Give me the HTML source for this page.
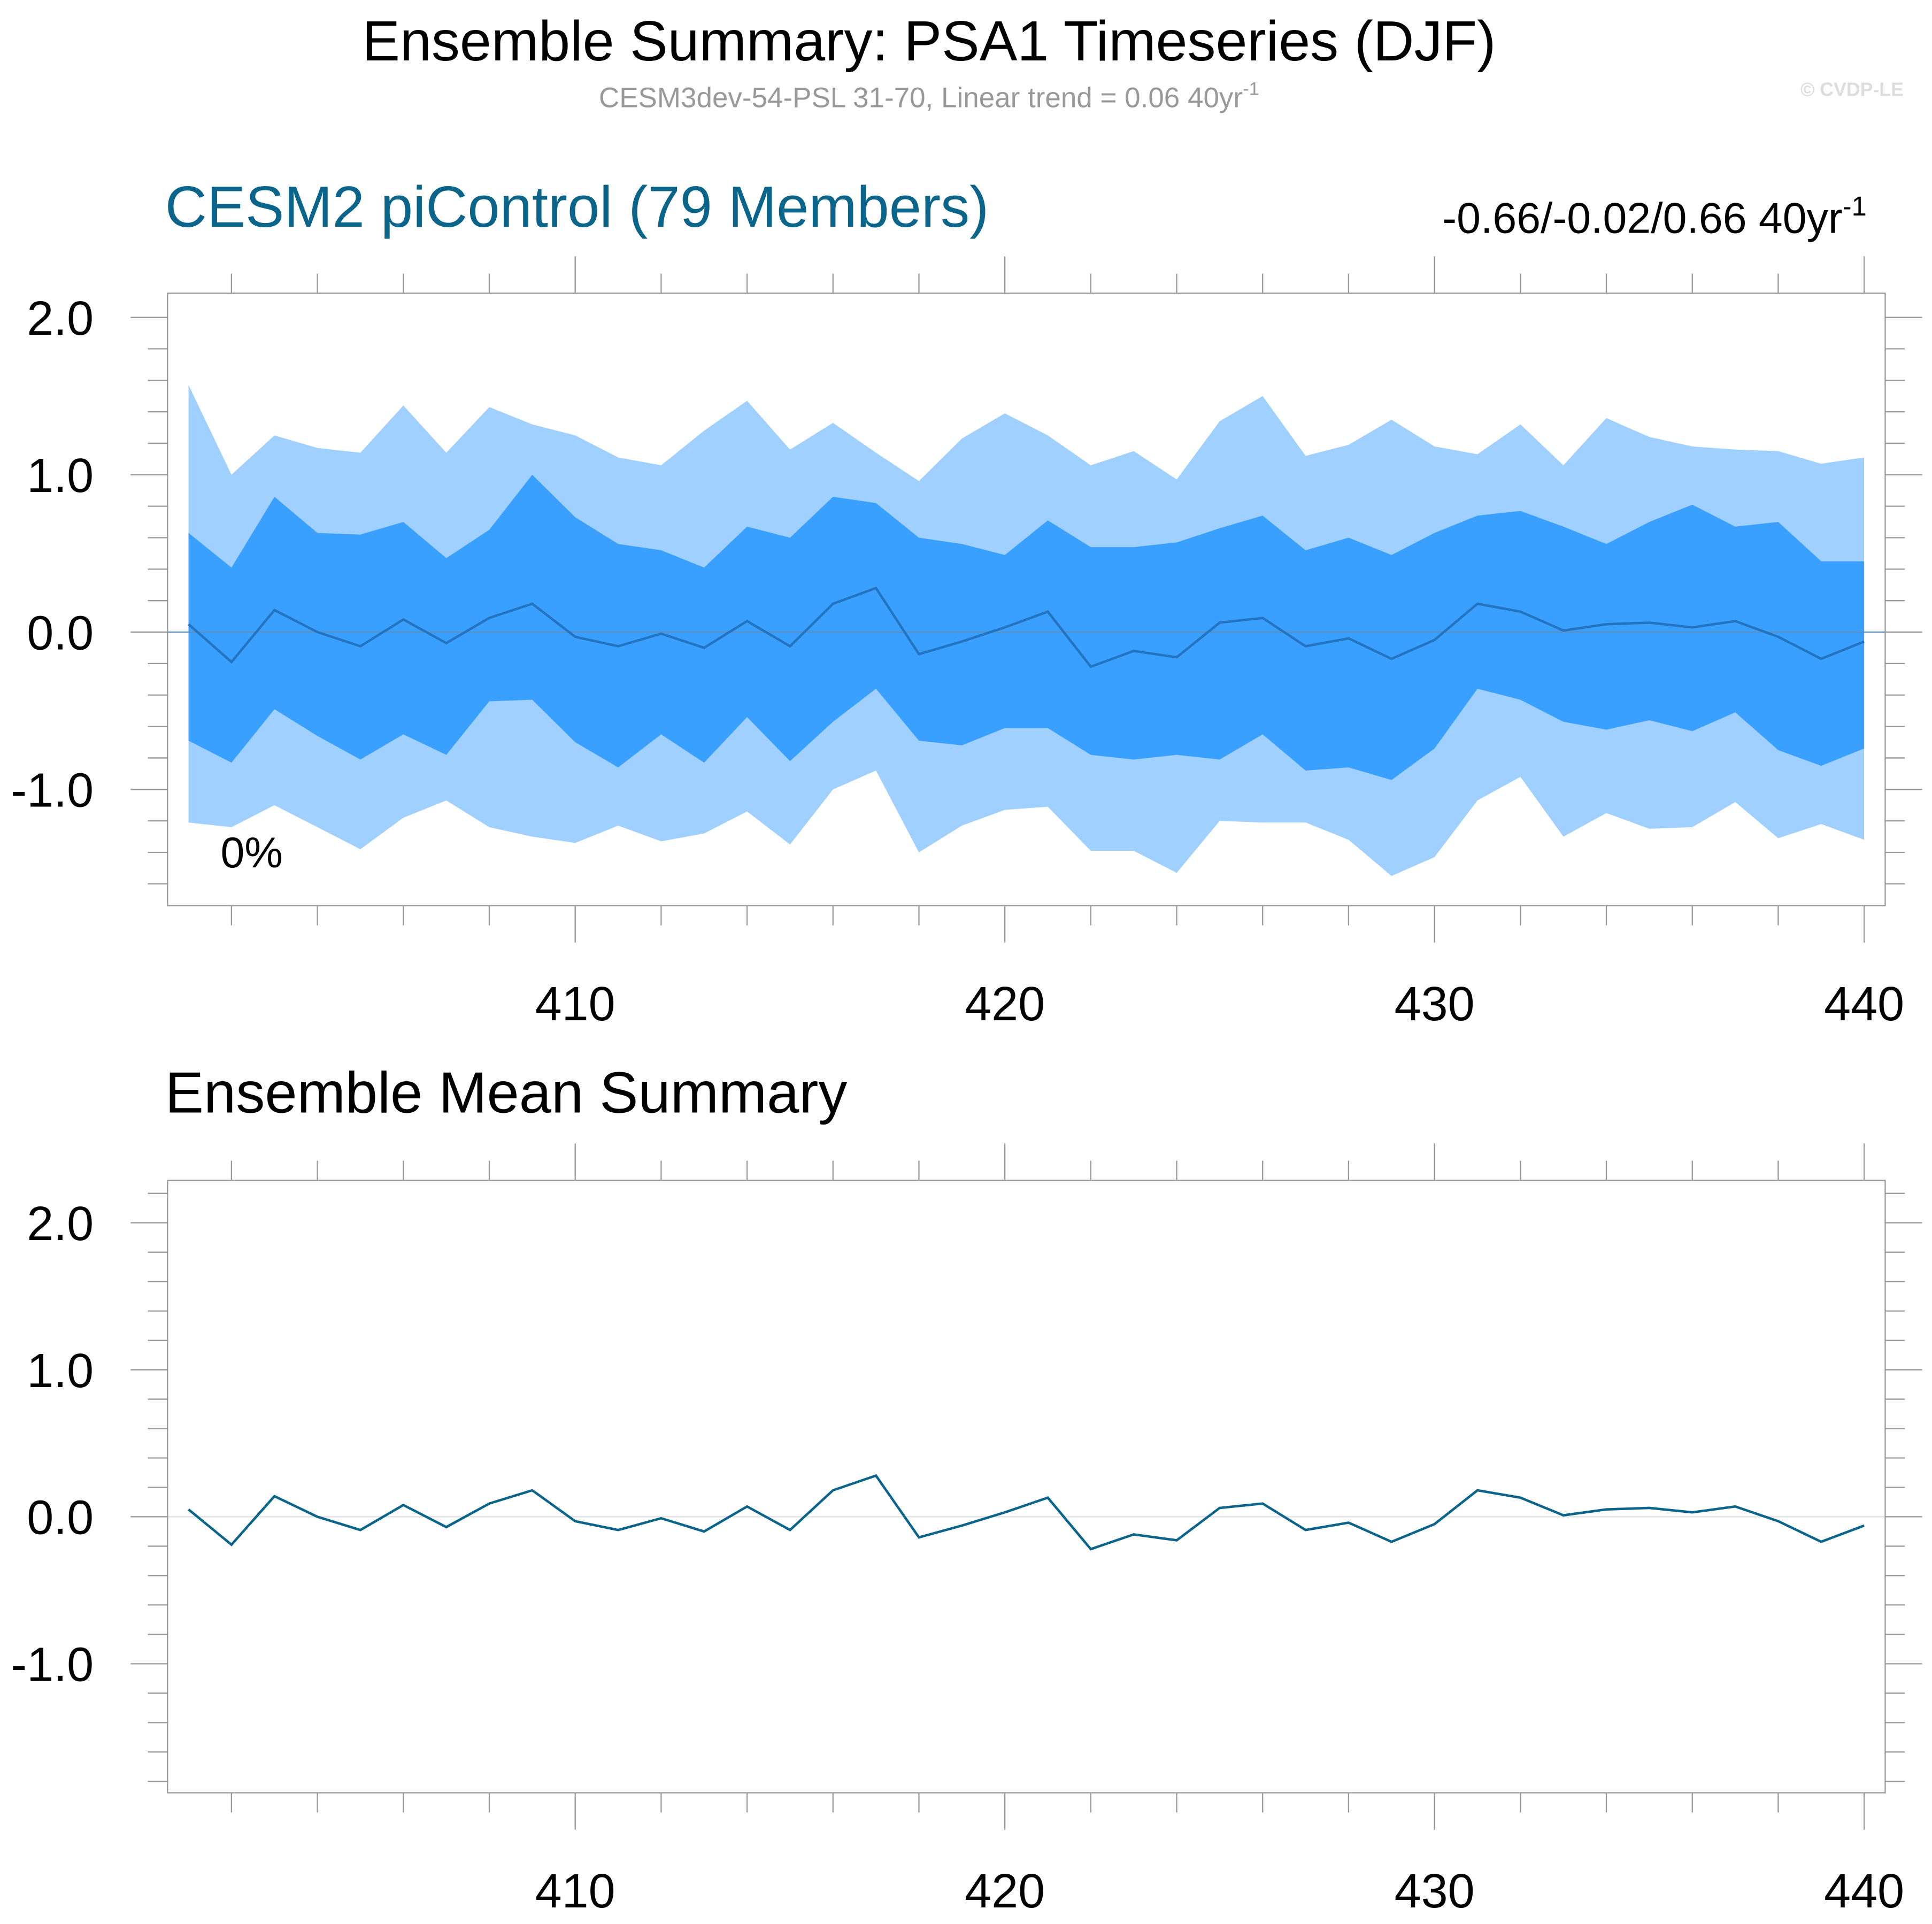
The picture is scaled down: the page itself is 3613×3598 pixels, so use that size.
<!DOCTYPE html>
<html><head><meta charset="utf-8"><style>
html,body{margin:0;padding:0;background:#fff}
svg{display:block;font-family:"Liberation Sans",Arial,sans-serif}
</style></head><body>
<svg id="chart" width="3613" height="3598" viewBox="0 0 1568 1561.5" xmlns="http://www.w3.org/2000/svg">
<rect width="1568" height="1561.5" fill="#fff"/>
<text x="754" y="49" font-size="46" text-anchor="middle" fill="#000">Ensemble Summary: PSA1 Timeseries (DJF)</text>
<text x="754" y="87" font-size="23" text-anchor="middle" fill="#999">CESM3dev-54-PSL 31-70, Linear trend = 0.06 40yr<tspan dy="-10" font-size="15">-1</tspan></text>
<text x="1545" y="78" font-size="15.5" font-weight="bold" text-anchor="end" fill="#ddd">© CVDP-LE</text>
<text x="134" y="184" font-size="47" fill="#0b6489">CESM2 piControl (79 Members)</text>
<text x="1515" y="189" font-size="35" text-anchor="end" fill="#000">-0.66/-0.02/0.66 40yr<tspan dy="-14" font-size="22">-1</tspan></text>
<text x="134" y="903" font-size="47" fill="#000">Ensemble Mean Summary</text>
<g id="p1"></g>
<g id="p2"></g>
</svg>
<script>
const years = [];
for (let y = 401; y <= 440; y++) years.push(y);
const meanVals = [0.05,-0.19,0.14,0.0,-0.09,0.08,-0.07,0.09,0.18,-0.03,-0.09,-0.01,-0.1,0.07,-0.09,0.18,0.28,-0.14,-0.06,0.03,0.13,-0.22,-0.12,-0.16,0.06,0.09,-0.09,-0.04,-0.17,-0.05,0.18,0.13,0.01,0.05,0.06,0.03,0.07,-0.03,-0.17,-0.06];
const outerHi = [1.57,1.0,1.25,1.17,1.14,1.44,1.14,1.43,1.32,1.25,1.11,1.06,1.28,1.47,1.16,1.33,1.14,0.96,1.23,1.39,1.25,1.06,1.15,0.97,1.34,1.5,1.12,1.19,1.35,1.18,1.13,1.32,1.06,1.36,1.24,1.18,1.16,1.15,1.07,1.11];
const innerHi = [0.63,0.41,0.86,0.63,0.62,0.7,0.47,0.65,1.0,0.73,0.56,0.52,0.41,0.67,0.6,0.86,0.82,0.6,0.56,0.49,0.71,0.54,0.54,0.57,0.66,0.74,0.52,0.6,0.49,0.63,0.74,0.77,0.67,0.56,0.7,0.81,0.67,0.7,0.45,0.45];
const innerLo = [-0.69,-0.83,-0.49,-0.66,-0.81,-0.65,-0.78,-0.44,-0.43,-0.7,-0.86,-0.65,-0.83,-0.54,-0.82,-0.57,-0.36,-0.69,-0.72,-0.61,-0.61,-0.78,-0.81,-0.78,-0.81,-0.65,-0.88,-0.86,-0.94,-0.74,-0.36,-0.43,-0.57,-0.62,-0.56,-0.63,-0.51,-0.75,-0.85,-0.74];
const outerLo = [-1.21,-1.24,-1.1,-1.24,-1.38,-1.18,-1.07,-1.24,-1.3,-1.34,-1.23,-1.33,-1.28,-1.14,-1.35,-1.0,-0.88,-1.4,-1.23,-1.13,-1.11,-1.39,-1.39,-1.53,-1.2,-1.21,-1.21,-1.32,-1.55,-1.43,-1.07,-0.92,-1.3,-1.15,-1.25,-1.24,-1.08,-1.31,-1.22,-1.32];
const xTickLabels = [410,420,430,440];
const yTickLabels = [2.0,1.0,0.0,-1.0];

const NS = "http://www.w3.org/2000/svg";
function mk(parent, tag, attrs) {
  const e = document.createElementNS(NS, tag);
  for (const k in attrs) e.setAttribute(k, attrs[k]);
  parent.appendChild(e);
  return e;
}
const xS = y => 153 + (y - 401) * 34.87;

function panel(g, top, bot, zeroY, unit, bands) {
  const yS = v => zeroY - v * unit;
  const L = 136, R = 1530;
  if (bands) {
    const poly = (hi, lo, col, name) => {
      let pts = years.map((y,i) => xS(y)+","+yS(hi[i]));
      pts = pts.concat(years.slice().reverse().map((y,j) => { const i = years.length-1-j; return xS(y)+","+yS(lo[i]); }));
      const p = mk(g, "polygon", {points: pts.join(" "), fill: col});
      
      
    };
    poly(outerHi, outerLo, "#9fd0ff", "outer-range-band");
    poly(innerHi, innerLo, "#3aa0ff", "inner-range-band");
  }
  const z = mk(g, "line", {x1:L, x2:R, y1:yS(0), y2:yS(0), stroke: bands ? "#5a8fc0" : "#e0e0e0", "stroke-width":1});
  
  
  const ml = mk(g, "polyline", {points: years.map((y,i)=>xS(y)+","+yS(meanVals[i])).join(" "), fill:"none", stroke: bands ? "#2374c0" : "#0b6489", "stroke-width":2});
  
  
  const box = mk(g, "rect", {x:L, y:top, width:R-L, height:bot-top, fill:"none", stroke:"#999", "stroke-width":1});
  
  
  for (let y = 402; y <= 440; y += 2) {
    const maj = y % 10 === 0, len = maj ? 30 : 16;
    mk(g, "line", {x1:xS(y), x2:xS(y), y1:top-len, y2:top, stroke:"#999", "stroke-width":1});
    mk(g, "line", {x1:xS(y), x2:xS(y), y1:bot, y2:bot+len, stroke:"#999", "stroke-width":1});
  }
  xTickLabels.forEach(v => {
    const t = mk(g, "text", {x:xS(v), y:bot+93, "font-size":39, "text-anchor":"middle", fill:"#000"});
    t.textContent = v;
    
    
  });
  for (let k = -20; k <= 24; k++) {
    const v = k / 10;
    if (Math.abs(k) % 2 === 1) continue;
    const yy = yS(v);
    if (yy < top + 2 || yy > bot - 2) continue;
    const maj = k % 10 === 0, len = maj ? 30 : 16;
    mk(g, "line", {x1:L-len, x2:L, y1:yy, y2:yy, stroke:"#999", "stroke-width":1});
    mk(g, "line", {x1:R, x2:R+len, y1:yy, y2:yy, stroke:"#999", "stroke-width":1});
  }
  yTickLabels.forEach(v => {
    const t = mk(g, "text", {x:76, y:yS(v)+14, "font-size":39, "text-anchor":"end", fill:"#000"});
    t.textContent = v.toFixed(1);
    
    
  });
  return yS;
}
const g1 = document.getElementById("p1"), g2 = document.getElementById("p2");
panel(g1, 238, 735, 513, 127.7, true);
const pct = mk(g1, "text", {x:179, y:704, "font-size":35, fill:"#000"});
pct.textContent = "0%";


panel(g2, 958, 1455, 1231, 119.3, false);
</script>
</body></html>
